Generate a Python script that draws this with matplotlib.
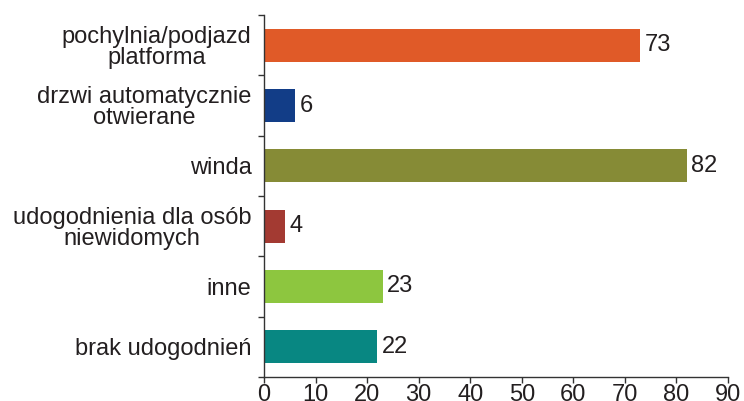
import matplotlib
matplotlib.use("Agg")
import matplotlib.pyplot as plt
import numpy as np

categories = ["pochylnia/podjazd\nplatforma", "drzwi automatycznie\notwierane", "winda",
              "udogodnienia dla osób\nniewidomych", "inne", "brak udogodnień"]
values = [73, 6, 82, 4, 23, 22]
colors = ["#E05A28", "#123D87", "#868B36", "#A33A32", "#8DC63F", "#088782"]
xticks = [0, 10, 20, 30, 40, 50, 60, 70, 80, 90]

plt.rcParams['font.family'] = ['Liberation Sans', 'DejaVu Sans']
txt = "#231F20"
fs = 17

fig = plt.figure(figsize=(7.44, 4.01), dpi=100)
ax = fig.add_axes([264/744, 1-377/401, (728-264)/744, (377-15)/401])

y = np.arange(len(categories))
ax.barh(y, values, height=0.55, color=colors)
for yi, v in zip(y, values):
    ax.text(v + 0.9, yi, str(v), va="center", ha="left", fontsize=fs, color=txt)

ax.set_xlim(0, 90)
ax.set_ylim(len(categories) - 0.5, -0.5)
ax.set_xticks(xticks)
ax.set_xticklabels([str(t) for t in xticks], fontsize=fs, color=txt)
ax.set_yticks(y)
ax.set_yticklabels(categories, fontsize=fs, color=txt, linespacing=0.95,
                   ha="right", multialignment="center")
ax.tick_params(axis="y", which="major", length=0, pad=9)
ax.set_yticks(np.arange(-0.5, len(categories), 1), minor=True)
ax.tick_params(axis="y", which="minor", length=4, width=1, color="#333333", direction="out")
ax.tick_params(axis="x", length=4, width=1, color="#333333", direction="out", pad=1)

for s in ["top", "right"]:
    ax.spines[s].set_visible(False)
for s in ["left", "bottom"]:
    ax.spines[s].set_color("#333333")
    ax.spines[s].set_linewidth(1)

fig.savefig("out.png", dpi=100)
